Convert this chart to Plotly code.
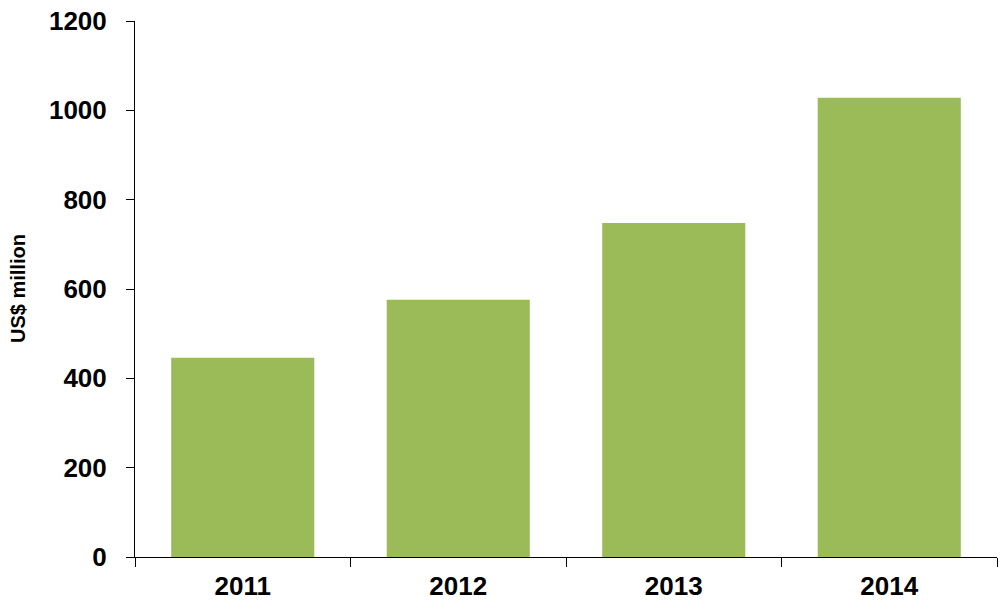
import plotly.graph_objects as go

years = ["2011", "2012", "2013", "2014"]
values = [446, 576, 748, 1028]
ytick_vals = [0, 200, 400, 600, 800, 1000, 1200]

font_family = "Liberation Sans, Arial, sans-serif"

W, H = 1004, 616
L, R, T, B = 135, 7, 21, 59
plot_w = W - L - R

fig = go.Figure(
    go.Bar(
        x=years,
        y=values,
        marker=dict(color="#9BBB59", line=dict(width=0)),
        width=0.664,
        hoverinfo="skip",
    )
)

fig.update_layout(
    width=W,
    height=H,
    margin=dict(l=L, r=R, t=T, b=B, autoexpand=False),
    paper_bgcolor="white",
    plot_bgcolor="white",
    showlegend=False,
    font=dict(family=font_family, color="black"),
)

fig.update_xaxes(
    type="category",
    automargin=False,
    showline=True,
    linecolor="black",
    linewidth=1,
    ticks="outside",
    tickson="boundaries",
    ticklen=9,
    tickcolor="black",
    tickwidth=1,
    showgrid=False,
    tickfont=dict(family=font_family, size=26, color="black", weight="bold"),
    ticklabelstandoff=6,
)

fig.update_yaxes(
    range=[0, 1200],
    automargin=False,
    tickvals=ytick_vals,
    ticktext=[str(v) for v in ytick_vals],
    showline=True,
    linecolor="black",
    linewidth=1,
    ticks="outside",
    ticklen=8,
    tickcolor="black",
    tickwidth=1,
    showgrid=False,
    zeroline=False,
    ticklabeloverflow="allow",
    tickfont=dict(family=font_family, size=26, color="black", weight="bold"),
    ticklabelstandoff=14,
)

fig.add_annotation(
    text="US$ million",
    xref="paper",
    yref="paper",
    x=(18 - L) / plot_w,
    y=0.5,
    xanchor="center",
    yanchor="middle",
    textangle=-90,
    showarrow=False,
    font=dict(family=font_family, size=20, color="black", weight="bold"),
)

fig.write_html(
    "out.html",
    config={"displayModeBar": False},
    post_script="document.body.style.margin='0';document.body.style.overflow='hidden';",
)
